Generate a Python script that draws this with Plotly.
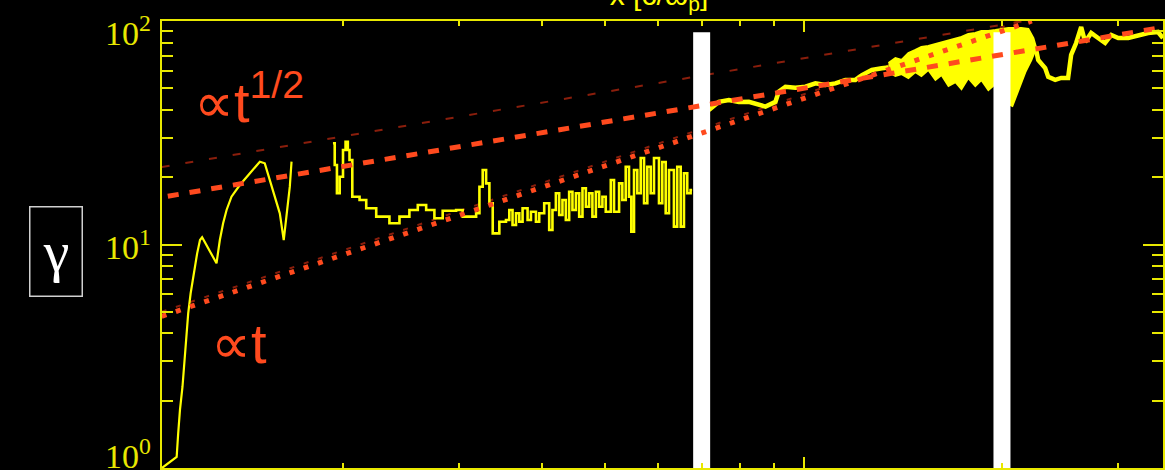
import numpy as np
import plotly.graph_objects as go

BG = "#000000"
AX = "#E8E800"
YEL = "#FFFF00"
RED = "#FF4A1E"
DARKRED = "#8A1E0C"

# ---------------- data ----------------
# early growth segment
segA_x = [10.61, 10.66, 11.17, 11.23, 11.30, 11.40, 11.46, 11.54, 11.63, 11.73, 11.84, 11.91,
          12.00, 12.12, 12.21, 12.84, 12.99, 13.14, 13.30, 13.53, 13.93, 14.43, 14.94, 15.20,
          15.47, 15.74, 16.02, 16.24, 16.40, 16.49, 16.59, 16.69]
segA_y = [1.00, 1.01, 1.12, 1.43, 1.82, 2.31, 2.84, 3.74, 4.92, 6.05, 7.18, 7.96,
          9.13, 10.47, 10.77, 8.24, 10.47, 12.44, 14.27, 16.36, 18.46, 20.83, 23.47, 23.08,
          19.44, 16.36, 13.79, 10.47, 13.32, 15.82, 18.14, 23.47]

# middle segment (plateau + oscillations)
segB_x = [19.29, 19.41, 19.56, 19.75, 19.98, 20.16, 20.32, 20.44, 20.64, 21.17, 21.67, 22.44,
          23.50, 24.34, 25.20, 25.95, 26.72, 27.50, 28.31, 29.67, 30.36, 31.82, 32.19, 32.56,
          32.95, 33.33, 33.72,
          34.51, 35.32, 35.73, 36.14, 36.58, 37.00, 37.43, 38.09, 38.54, 39.22, 39.67, 40.37,
          41.08, 41.55, 42.05, 42.54, 43.03, 43.54, 44.05, 44.56, 45.10, 45.62, 46.15, 46.70,
          47.24, 47.78, 48.36, 48.92, 49.48, 50.06, 50.95, 51.53, 52.45, 53.05, 53.68, 54.30,
          54.74, 55.26, 55.90, 56.57, 57.23, 57.89, 58.58, 59.26, 60.30, 61.00, 61.73, 62.45,
          63.53, 64.27, 65.05, 65.80, 66.56, 67.35, 67.70]
segB_y = [28.37, 22.68, 16.95, 20.11, 26.48, 28.84, 26.48, 23.88, 16.36, 15.82, 14.52, 13.32,
          12.44, 13.32, 14.27, 15.02, 14.27, 13.10, 14.16, 14.27, 13.32, 13.79, 18.14, 21.54,
          18.78, 15.29, 11.22,
          12.65, 12.87, 14.27, 12.23, 13.79, 12.65, 14.52, 12.87, 14.02, 12.65, 13.79, 15.29,
          11.61, 14.27, 16.95, 13.55, 15.82, 12.87, 17.23, 14.27, 16.95, 13.32, 17.85, 14.76,
          16.95, 13.32, 17.23, 14.76, 16.36, 14.02, 19.44, 14.02, 18.78, 15.82, 22.29, 16.36,
          11.41, 21.54, 16.95, 24.38, 15.29, 22.29, 16.95, 24.38, 15.29, 23.39, 13.79, 21.54,
          12.02, 22.29, 12.02, 20.83, 16.95, 17.53, 17.53]

# late segment before the noisy band
segC_x = [71.8, 74.34, 76.99, 79.72, 82.55, 84.5, 87.5, 90.61, 91.65, 93.83, 97.14, 100.6,
          104.2, 107.9, 111.7, 115.7, 119.8, 122.6, 126.9, 131.4, 134.5]
segC_y = [40.0, 43.5, 44.3, 43.4, 43.5, 42.8, 41.4, 43.5, 48.3, 50.8, 50.3, 50.8,
          52.6, 51.7, 52.6, 54.5, 54.5, 57.3, 60.4, 61.4, 62.0]

# noisy band: upper and lower envelopes
band_up_x = [134.5, 137.8, 140.8, 144.2, 147.8, 150.9, 154.6, 158.5, 161.9, 165.9, 170.0, 173.6,
             177.8, 182.2, 186.1, 190.7, 195.4, 199.5, 204.5, 209.5, 214.0, 219.3, 223.2, 225.4]
band_up_y = [64.9, 68.3, 66.9, 71.9, 74.2, 76.5, 77.3, 78.9, 80.5, 82.2, 83.9, 84.8,
             87.5, 88.4, 90.2, 90.2, 91.1, 92.1, 93.1, 93.1, 93.1, 92.1, 83.9, 75.7]
band_lo_x = [134.5, 137.8, 140.8, 144.2, 147.8, 150.9, 154.6, 158.5, 161.9, 165.9, 170.0, 173.6,
             177.8, 182.2, 186.1, 190.7, 195.4, 199.5, 204.5, 207.4, 211.8, 217.0, 221.6, 225.4]
band_lo_y = [59.1, 56.8, 57.9, 55.6, 59.1, 56.8, 60.4, 54.5, 57.3, 51.2, 53.3, 49.6,
             55.6, 51.2, 54.5, 49.1, 52.3, 45.2, 42.5, 41.7, 49.1, 59.1, 66.9, 75.7]

# final segment
segD_x = [225.4, 227.0, 232.6, 235.1, 240.9, 246.0, 252.0, 254.7, 259.2, 263.8, 267.5, 273.2,
          279.9, 286.8, 293.1, 300.3, 310.9, 321.9, 333.3, 345.1, 351.1]
segD_y = [74.2, 66.9, 61.6, 56.2, 54.5, 55.6, 55.6, 70.5, 79.7, 94.0, 80.5, 88.4,
          83.9, 79.7, 86.6, 83.9, 83.9, 86.6, 88.4, 89.3, 83.9]

# power-law guides
half_x = [10.83, 351.0]          # gamma ~ t^1/2
half_y = [16.45, 93.7]
lin_x = [10.6, 222.0]            # gamma ~ t
lin_y = [4.77, 100.0]
faint_half_x = [10.6, 216.0]
faint_half_y = [22.2, 100.0]
faint_lin_x = [10.6, 213.0]
faint_lin_y = [5.0, 100.0]

# white markers
bar_x = [70, 200]
bar_y = [1.0, 89.0]

tick_vals = [1, 10, 100]
tick_text = ["10<sup>0</sup>", "10<sup>1</sup>", "10<sup>2</sup>"]
tick_shift = [14, 0, -10]

# ---------------- figure ----------------
fig = go.Figure()

fig.add_trace(go.Scatter(x=faint_half_x, y=faint_half_y, mode="lines",
                         line=dict(color=DARKRED, width=2, dash="8px,16px"), hoverinfo="skip"))
fig.add_trace(go.Scatter(x=faint_lin_x, y=faint_lin_y, mode="lines",
                         line=dict(color=DARKRED, width=2, dash="5px,10px"), hoverinfo="skip"))

fig.add_trace(go.Scatter(x=segA_x, y=segA_y, mode="lines",
                         line=dict(color=YEL, width=2.2), hoverinfo="skip"))
fig.add_trace(go.Scatter(x=segB_x, y=segB_y, mode="lines",
                         line=dict(color=YEL, width=2.6, shape="hv"), hoverinfo="skip"))
fig.add_trace(go.Scatter(x=segC_x, y=segC_y, mode="lines",
                         line=dict(color=YEL, width=4.5), hoverinfo="skip"))
fig.add_trace(go.Scatter(x=band_up_x + band_lo_x[::-1], y=band_up_y + band_lo_y[::-1],
                         mode="lines", fill="toself", fillcolor=YEL,
                         line=dict(color=YEL, width=2), hoverinfo="skip"))
fig.add_trace(go.Scatter(x=segD_x, y=segD_y, mode="lines",
                         line=dict(color=YEL, width=4.5), hoverinfo="skip"))

for bx in bar_x:
    fig.add_trace(go.Scatter(x=[bx, bx], y=bar_y, mode="lines",
                             line=dict(color="#FFFFFF", width=17), hoverinfo="skip"))

fig.add_trace(go.Scatter(x=half_x, y=half_y, mode="lines",
                         line=dict(color=RED, width=5, dash="11px,11px"), hoverinfo="skip"))
fig.add_trace(go.Scatter(x=lin_x, y=lin_y, mode="lines",
                         line=dict(color=RED, width=5, dash="5px,10px"), hoverinfo="skip"))

L, T, W, H = 162, 21, 1003, 447


def pxx(p):
    return (p - L) / W


def pxy(p):
    return (T + H - p) / H


annotations = []
for v, t, s in zip(tick_vals, tick_text, tick_shift):
    annotations.append(dict(x=pxx(153), xref="paper", y=np.log10(v), yref="y",
                            text=t, showarrow=False, xanchor="right", yanchor="middle",
                            yshift=s, font=dict(family="Liberation Serif", size=34, color=AX)))

annotations.append(dict(x=pxx(56), y=pxy(251.2), xref="paper", yref="paper", text="γ",
                        showarrow=False, xanchor="center", yanchor="middle",
                        width=51, height=88, borderpad=0, bordercolor="#d0d0d0",
                        borderwidth=1.5, bgcolor=BG,
                        font=dict(family="Liberation Serif", size=58, color="#FFFFFF")))

annotations.append(dict(x=pxx(192), y=pxy(99), xref="paper", yref="paper",
                        text="∝t<sup>1/2</sup>", showarrow=False, xanchor="left",
                        yanchor="middle",
                        font=dict(family="Liberation Sans, DejaVu Sans", size=56, color=RED)))
annotations.append(dict(x=pxx(209), y=pxy(343), xref="paper", yref="paper",
                        text="∝t", showarrow=False, xanchor="left", yanchor="middle",
                        font=dict(family="Liberation Sans, DejaVu Sans", size=56, color=RED)))

annotations.append(dict(x=pxx(660), y=1, xref="paper", yref="paper",
                        text="x [c/ω<sub>p</sub>]", showarrow=False, xanchor="center",
                        yanchor="bottom", width=128, borderpad=0, yshift=5,
                        bgcolor="rgba(0,0,0,0.7)",
                        font=dict(family="Liberation Sans", size=30, color=YEL)))

fig.update_layout(
    width=1165, height=470,
    margin=dict(l=L, r=0, t=T, b=470 - T - H, pad=0),
    paper_bgcolor=BG, plot_bgcolor=BG,
    showlegend=False,
    annotations=annotations,
    xaxis=dict(type="log", range=[1.0258, 2.5455], showgrid=False, zeroline=False,
               showline=True, linecolor=AX, linewidth=2, mirror="ticks",
               ticks="inside", ticklen=11, tickwidth=2, tickcolor=AX, dtick=1,
               showticklabels=False,
               minor=dict(ticks="inside", ticklen=5, tickwidth=2, tickcolor=AX,
                          dtick="D1", showgrid=False)),
    yaxis=dict(type="log", range=[0, 2], showgrid=False, zeroline=False,
               showline=True, linecolor=AX, linewidth=2, mirror="ticks",
               ticks="inside", ticklen=20, tickwidth=2, tickcolor=AX, dtick=1,
               showticklabels=False,
               minor=dict(ticks="inside", ticklen=11, tickwidth=2, tickcolor=AX,
                          dtick="D1", showgrid=False)),
)

fig.write_html("out.html")
